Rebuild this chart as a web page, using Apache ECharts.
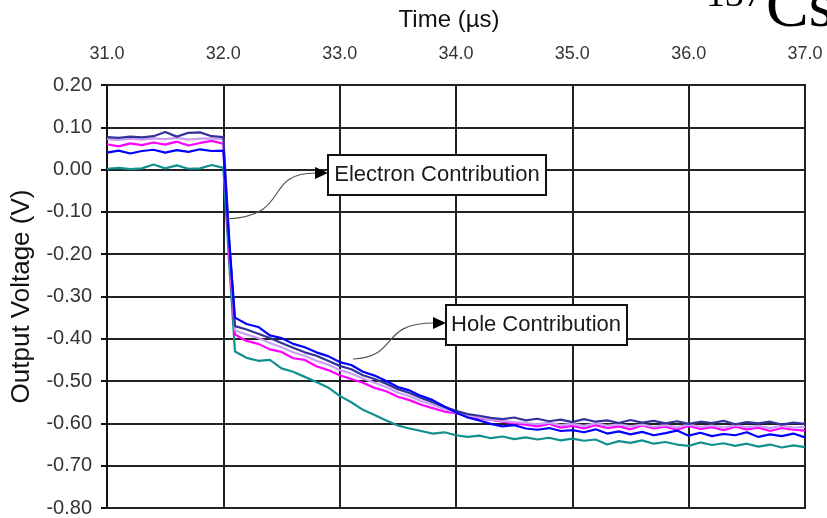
<!DOCTYPE html>
<html>
<head>
<meta charset="utf-8">
<script src="https://cdn.jsdelivr.net/npm/echarts@6/dist/echarts.min.js"></script>
<style>
html,body{margin:0;padding:0;background:#fff;}
#chart{width:827px;height:518px;}
</style>
</head>
<body>
<div id="chart"></div>
<script>
// Time points (µs)
const timeUs = [31.0,31.1,31.2,31.3,31.4,31.5,31.6,31.7,31.8,31.9,32.0,32.05,32.1,
  32.2,32.3,32.4,32.5,32.6,32.7,32.8,32.9,33.0,33.1,33.2,33.3,33.4,33.5,33.6,33.7,33.8,33.9,
  34.0,34.1,34.2,34.3,34.4,34.5,34.6,34.7,34.8,34.9,35.0,35.1,35.2,35.3,35.4,35.5,35.6,35.7,35.8,35.9,
  36.0,36.1,36.2,36.3,36.4,36.5,36.6,36.7,36.8,36.9,37.0];

const tealV = [0.002,0.004,0.001,0.003,0.012,0.003,0.010,0.002,0.003,0.011,0.004,-0.22,-0.43,
  -0.445,-0.452,-0.450,-0.470,-0.478,-0.490,-0.502,-0.515,-0.535,-0.550,-0.568,-0.580,-0.593,-0.605,-0.612,-0.618,-0.624,-0.621,
  -0.628,-0.632,-0.629,-0.635,-0.631,-0.637,-0.633,-0.638,-0.634,-0.640,-0.636,-0.641,-0.638,-0.650,-0.642,-0.646,-0.640,-0.648,-0.644,-0.650,
  -0.653,-0.645,-0.651,-0.647,-0.653,-0.648,-0.655,-0.650,-0.657,-0.652,-0.656];

const magentaV = [0.060,0.055,0.062,0.058,0.064,0.059,0.066,0.057,0.063,0.068,0.061,-0.20,-0.39,
  -0.405,-0.412,-0.425,-0.431,-0.446,-0.450,-0.465,-0.474,-0.486,-0.495,-0.504,-0.516,-0.524,-0.537,-0.545,-0.556,-0.564,-0.572,
  -0.576,-0.583,-0.588,-0.592,-0.596,-0.600,-0.603,-0.607,-0.601,-0.610,-0.606,-0.612,-0.604,-0.611,-0.607,-0.614,-0.605,-0.612,-0.608,-0.615,
  -0.606,-0.613,-0.609,-0.616,-0.608,-0.614,-0.610,-0.618,-0.611,-0.615,-0.617];

const lavenderV = [0.072,0.070,0.073,0.071,0.074,0.072,0.075,0.071,0.073,0.074,0.072,-0.18,-0.38,
  -0.390,-0.398,-0.410,-0.420,-0.432,-0.440,-0.452,-0.461,-0.474,-0.482,-0.494,-0.504,-0.514,-0.527,-0.536,-0.547,-0.556,-0.566,
  -0.574,-0.581,-0.586,-0.591,-0.594,-0.597,-0.599,-0.602,-0.598,-0.604,-0.601,-0.606,-0.600,-0.605,-0.602,-0.607,-0.603,-0.608,-0.604,-0.609,
  -0.603,-0.608,-0.605,-0.610,-0.604,-0.609,-0.606,-0.611,-0.605,-0.610,-0.608];

const navyV = [0.077,0.075,0.078,0.076,0.079,0.089,0.078,0.087,0.088,0.079,0.077,-0.16,-0.37,
  -0.378,-0.388,-0.398,-0.410,-0.421,-0.432,-0.440,-0.452,-0.464,-0.472,-0.486,-0.495,-0.506,-0.519,-0.528,-0.540,-0.550,-0.561,
  -0.570,-0.578,-0.582,-0.587,-0.590,-0.586,-0.593,-0.589,-0.595,-0.591,-0.597,-0.590,-0.596,-0.593,-0.599,-0.592,-0.598,-0.594,-0.600,-0.595,
  -0.601,-0.596,-0.599,-0.594,-0.602,-0.597,-0.600,-0.596,-0.603,-0.598,-0.601];

const blueV = [0.040,0.045,0.038,0.044,0.047,0.040,0.046,0.042,0.048,0.044,0.045,-0.17,-0.35,
  -0.365,-0.372,-0.392,-0.398,-0.412,-0.420,-0.432,-0.441,-0.455,-0.462,-0.478,-0.487,-0.500,-0.514,-0.522,-0.535,-0.545,-0.560,
  -0.574,-0.586,-0.593,-0.601,-0.607,-0.604,-0.612,-0.615,-0.611,-0.618,-0.616,-0.621,-0.614,-0.624,-0.619,-0.626,-0.620,-0.628,-0.623,-0.617,
  -0.629,-0.622,-0.630,-0.625,-0.628,-0.621,-0.632,-0.626,-0.630,-0.624,-0.633];

const seriesNames = ['teal','magenta','lavender','navy','blue'];
const seriesValues = [tealV, magentaV, lavenderV, navyV, blueV];
const seriesColors = ['#129090','#ff00ff','#c9a0f5','#333399','#0000ff'];

const chart = echarts.init(document.getElementById('chart'));
const font = 'Arial, "Liberation Sans", sans-serif';

chart.setOption({
  animation: false,
  backgroundColor: '#fff',
  grid: {left: 107, right: 22, top: 85, bottom: 10, containLabel: false,
         show: true, borderColor: '#222', borderWidth: 2},
  xAxis: {
    type: 'value', position: 'top', min: 31, max: 37, interval: 1,
    name: 'Time (\u00b5s)', nameLocation: 'middle', nameGap: 53,
    nameTextStyle: {fontFamily: font, fontSize: 24, color: '#111', padding: [0, 14, 0, 0]},
    axisLine: {show: true, lineStyle: {color: '#222', width: 2}},
    axisTick: {show: false},
    axisLabel: {fontFamily: font, fontSize: 18, color: '#333', margin: 22,
      formatter: v => v.toFixed(1)},
    splitLine: {show: true, lineStyle: {color: '#222', width: 2}}
  },
  yAxis: {
    type: 'value', min: -0.8, max: 0.2, interval: 0.1,
    name: 'Output Voltage (V)', nameLocation: 'middle', nameGap: 72,
    nameTextStyle: {fontFamily: font, fontSize: 26, color: '#111'},
    axisLine: {show: true, lineStyle: {color: '#111', width: 2}},
    axisTick: {show: true, inside: false, length: 6, lineStyle: {color: '#111', width: 2}},
    axisLabel: {fontFamily: font, fontSize: 20, color: '#333', margin: 15,
      formatter: v => v.toFixed(2)},
    splitLine: {show: true, lineStyle: {color: '#222', width: 2}}
  },
  series: seriesValues.map((vals, i) => ({
    name: seriesNames[i], type: 'line', showSymbol: false, symbol: 'none',
    lineStyle: {color: seriesColors[i], width: 2.2},
    data: timeUs.map((t, j) => [t, vals[j]]),
    z: 3 + i
  })),
  graphic: [
    // isotope label (partly cut off at the top right)
    {type: 'text', left: 706, top: -23, z: 100,
     style: {text: '137', font: '38px "Liberation Serif", "Times New Roman", serif', fill: '#000'}},
    {type: 'text', left: 766, top: -23, z: 100,
     style: {text: 'Cs', font: '64px "Liberation Serif", "Times New Roman", serif', fill: '#000'}},
    // Electron contribution callout
    {type: 'bezierCurve', z: 100,
     shape: {x1: 226, y1: 219, x2: 316, y2: 173, cpx1: 292, cpy1: 217, cpx2: 262, cpy2: 173},
     style: {stroke: '#555', lineWidth: 1.2, fill: null}},
    {type: 'polygon', z: 100, shape: {points: [[315, 167], [328, 173], [315, 179]]}, style: {fill: '#000'}},
    {type: 'rect', z: 100, shape: {x: 328, y: 155, width: 218, height: 40},
     style: {fill: '#fff', stroke: '#111', lineWidth: 2}},
    {type: 'text', z: 101, x: 437, y: 175,
     style: {text: 'Electron Contribution', font: '22px Arial, "Liberation Sans", sans-serif', fill: '#1a1a1a',
             align: 'center', verticalAlign: 'middle'}},
    // Hole contribution callout
    {type: 'bezierCurve', z: 100,
     shape: {x1: 353, y1: 359, x2: 434, y2: 323, cpx1: 400, cpy1: 357, cpx2: 378, cpy2: 323},
     style: {stroke: '#555', lineWidth: 1.2, fill: null}},
    {type: 'polygon', z: 100, shape: {points: [[433, 317], [446, 323], [433, 329]]}, style: {fill: '#000'}},
    {type: 'rect', z: 100, shape: {x: 446, y: 305, width: 181, height: 40},
     style: {fill: '#fff', stroke: '#111', lineWidth: 2}},
    {type: 'text', z: 101, x: 536, y: 325,
     style: {text: 'Hole Contribution', font: '22px Arial, "Liberation Sans", sans-serif', fill: '#1a1a1a',
             align: 'center', verticalAlign: 'middle'}}
  ]
});
</script>
</body>
</html>
